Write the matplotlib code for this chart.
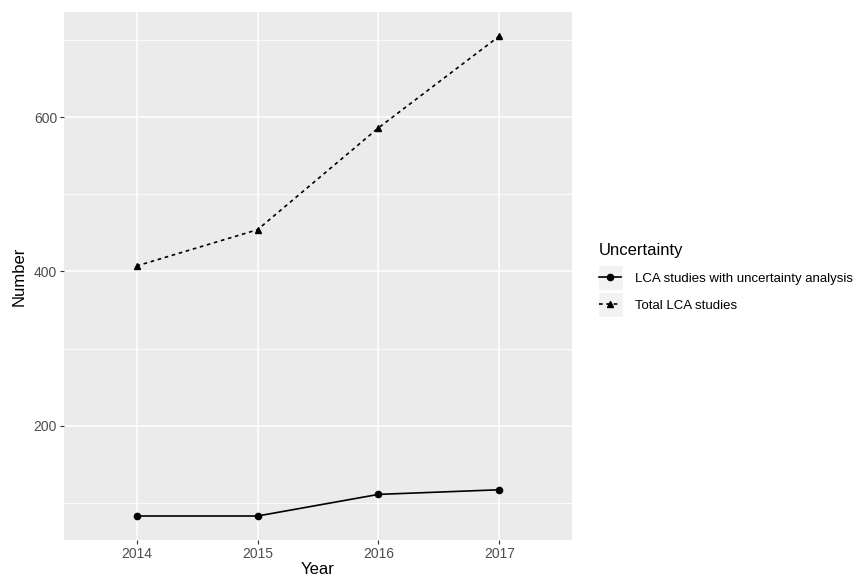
import matplotlib
matplotlib.use("Agg")
import matplotlib.pyplot as plt
from matplotlib.patches import Rectangle

plt.rcParams['font.family'] = ['Liberation Sans', 'DejaVu Sans']

# data
years = [2014, 2015, 2016, 2017]
with_uncertainty = [83, 83, 111, 117]
total_studies = [407, 454, 586, 705]
series_labels = ["LCA studies with uncertainty analysis", "Total LCA studies"]

fig = plt.figure(figsize=(8.6, 5.8), dpi=100)
ax = fig.add_axes([64/860, 40/580, (572-64)/860, (540-12)/580])

# ggplot grey panel
ax.set_facecolor("#EBEBEB")
for s in ax.spines.values():
    s.set_visible(False)

ax.set_xlim(2013.4, 2017.6)
ax.set_ylim(51.9, 736.1)
ax.set_xticks(years)
ax.set_xticklabels([str(y) for y in years])
ax.set_yticks([200, 400, 600])
ax.set_yticks([100, 300, 500, 700], minor=True)
ax.grid(True, which="major", color="white", linewidth=1.1)
ax.grid(True, which="minor", axis="y", color="white", linewidth=0.55)
ax.set_axisbelow(True)
ax.tick_params(axis="both", which="major", colors="#333333", length=3,
               width=0.8, labelsize=10, labelcolor="#4D4D4D", pad=2)
ax.tick_params(axis="y", which="minor", length=0)

ax.plot(years, with_uncertainty, color="black", linewidth=1.2,
        marker="o", markersize=4.5, label=series_labels[0])
ax.plot(years, total_studies, color="black", linewidth=1.2,
        linestyle=(0, (2.2, 2.2)), marker="^", markersize=5,
        label=series_labels[1])

ax.set_xlabel("Year", fontsize=12, labelpad=1)
ax.set_ylabel("Number", fontsize=12, labelpad=5)

leg = ax.legend(loc="upper left", bbox_to_anchor=(597/860, 1 - 241/580),
                bbox_transform=fig.transFigure, frameon=False,
                title="Uncertainty", fontsize=9.5, title_fontsize=12,
                handlelength=1.7, handletextpad=1.0, labelspacing=1.12,
                borderaxespad=0, borderpad=0.15)
leg._legend_box.align = "left"

# grey key boxes behind legend handles
fig.canvas.draw()
for h in leg.legend_handles:
    bb = h.get_window_extent(fig.canvas.get_renderer())
    cx = (bb.x0 + bb.x1) / 2
    cy = (bb.y0 + bb.y1) / 2
    fig.patches.append(Rectangle((cx - 12.5, cy - 12.5), 25, 25,
                                 transform=None, facecolor="#F2F2F2",
                                 edgecolor="white", zorder=-1))

fig.savefig("out.png", dpi=100)
